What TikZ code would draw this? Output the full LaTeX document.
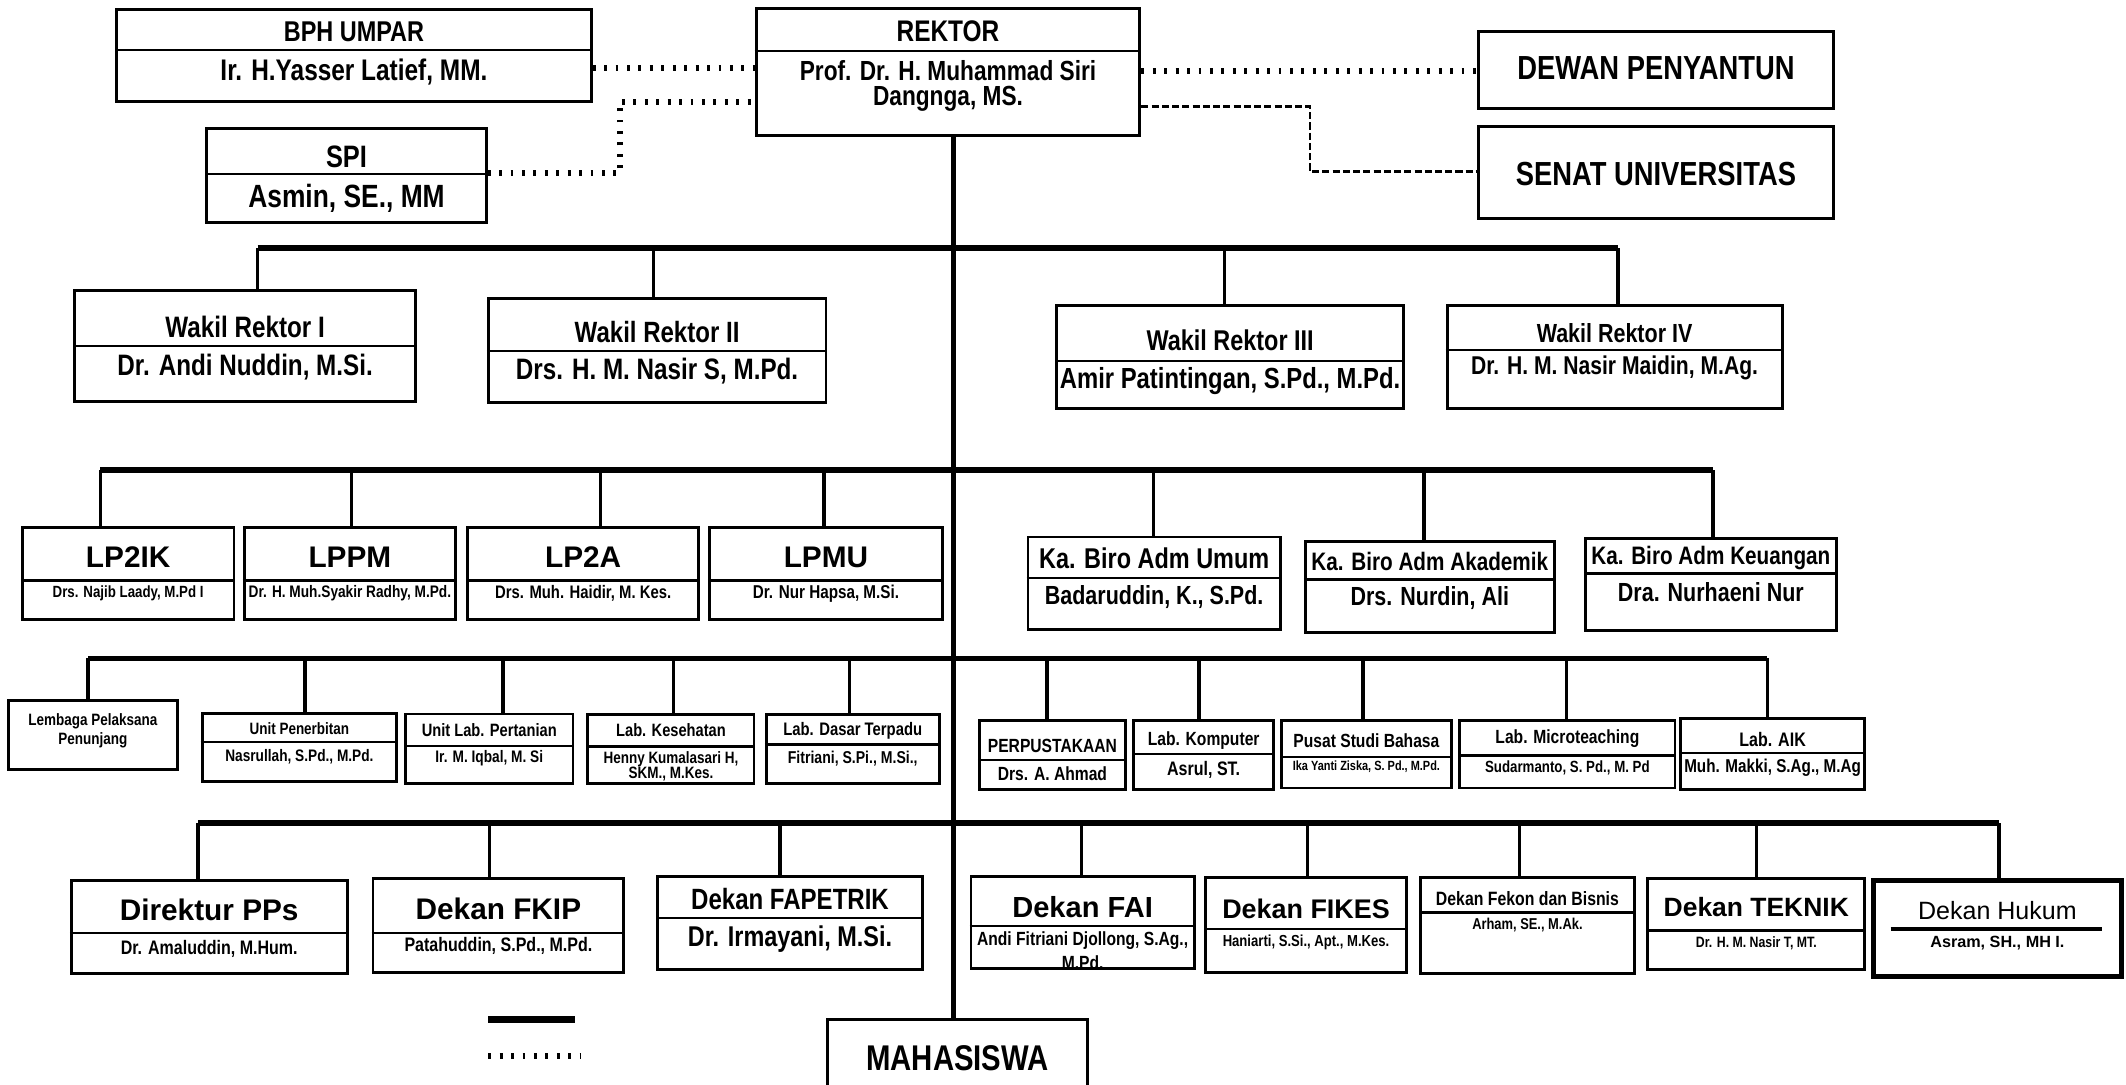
\documentclass[tikz,border=0pt]{standalone}
\usepackage{fontspec}
\newfontfamily\cnd{Liberation Sans}[FakeStretch=0.82]
\newfontfamily\wde{Liberation Sans}
\usetikzlibrary{fit}
\newcommand\fcn[1]{\cnd\bfseries\fontsize{#1}{#1}\selectfont}
\newcommand\fwd[1]{\wde\bfseries\fontsize{#1}{#1}\selectfont}
\newcommand\fwr[1]{\wde\fontsize{#1}{#1}\selectfont}
\newcommand\obx[5]{\node[obox, fit={(#2,-#3) (#4,-#5)}] (#1) {};}
\newcommand\odv[2]{\draw[divl] (#1.west |- 0,-#2) -- (#1.east |- 0,-#2);}
\newcommand\otx[4]{\node[txt, font=#3] at (#1.north |- 0,-#2) {#4};}
\newcommand\odrop[3]{\coordinate (#1c) at (#2,-#3); \draw[drop] (#1c) -- (#1c |- #1.north);}
\tikzset{
  obox/.style={draw, line width=1.2pt, inner sep=0pt},
  hbox/.style={draw, line width=2pt, inner sep=0pt},
  divl/.style={line width=1pt},
  txt/.style={inner sep=0pt, align=center},
  bus/.style={line width=2.3pt},
  drop/.style={line width=1.4pt},
  trunk/.style={line width=1.8pt},
  legsolid/.style={line width=2.8pt},
  hdot/.style={line width=2.6pt, dash pattern=on 1.2pt off 3.6pt},
  fdash/.style={line width=1.1pt, dash pattern=on 3pt off 1.3pt},
}
\begin{document}
\begin{tikzpicture}[x=0.02cm, y=0.02cm]
\useasboundingbox (0,0) rectangle (1567.6,-800);
\clip (0,0) rectangle (1567.6,-800);
\fill[white] (0,0) rectangle (1567.6,-800);

% ---------- top ----------
\obx{bph}{86}{7}{436}{75} \odv{bph}{37}
\otx{bph}{23.4}{\fcn{12}}{BPH UMPAR}
\otx{bph}{53}{\fcn{12.5}}{Ir. H.Yasser Latief, MM.}

\obx{rektor}{557.5}{6}{840.5}{99.6} \odv{rektor}{37.4}
\otx{rektor}{23.4}{\fcn{12.5}}{REKTOR}
\otx{rektor}{52}{\fcn{11.6}}{Prof. Dr. H. Muhammad Siri}
\otx{rektor}{73}{\fcn{11.6}}{Dangnga, MS.}

\obx{spi}{152.5}{94.6}{358.5}{164} \odv{spi}{128.3}
\otx{spi}{115.5}{\fcn{13}}{SPI}
\otx{spi}{146.3}{\fcn{13.5}}{Asmin, SE., MM}

\obx{dewan}{1090}{23.4}{1352}{80}
\otx{dewan}{50}{\fcn{14}}{DEWAN PENYANTUN}
\obx{senat}{1090}{93}{1352}{161}
\otx{senat}{128}{\fcn{14}}{SENAT UNIVERSITAS}

\draw[hdot] (bph.east |- 0,-50.4) -- (rektor.west |- 0,-50.4);
\draw[hdot] (spi.east |- 0,-127.8) -| (457,-75) -- (rektor.west |- 0,-75);
\draw[hdot] (rektor.east |- 0,-52.4) -- (dewan.west |- 0,-52.4);
\draw[fdash] (rektor.east |- 0,-78.7) -| (966,-126.6) -- (senat.west |- 0,-126.6);

% ---------- wakil rektor ----------
\obx{wr1}{55}{214}{306.5}{296} \odv{wr1}{255}
\otx{wr1}{241.4}{\fcn{12.4}}{Wakil Rektor I}
\otx{wr1}{270.4}{\fcn{12.4}}{Dr. Andi Nuddin, M.Si.}
\obx{wr2}{360}{220}{609}{297} \odv{wr2}{259}
\otx{wr2}{244.6}{\fcn{12.3}}{Wakil Rektor II}
\otx{wr2}{273.6}{\fcn{12.4}}{Drs. H. M. Nasir S, M.Pd.}
\obx{wr3}{779}{225}{1035}{301} \odv{wr3}{266}
\otx{wr3}{250.7}{\fcn{12}}{Wakil Rektor III}
\otx{wr3}{281}{\fcn{12.2}}{Amir Patintingan, S.Pd., M.Pd.}
\obx{wr4}{1067}{225}{1314}{301} \odv{wr4}{258}
\otx{wr4}{245.3}{\fcn{11}}{Wakil Rektor IV}
\otx{wr4}{271.2}{\fcn{10.8}}{Dr. H. M. Nasir Maidin, M.Ag.}

% ---------- lembaga / biro ----------
\obx{lp2ik}{16.5}{389}{172.5}{457} \odv{lp2ik}{428}
\otx{lp2ik}{411}{\fwd{12.5}}{LP2IK}
\otx{lp2ik}{437.6}{\fcn{6.8}}{Drs. Najib Laady, M.Pd I}
\obx{lppm}{180}{389}{336}{457} \odv{lppm}{428}
\otx{lppm}{411}{\fwd{12.5}}{LPPM}
\otx{lppm}{437.6}{\fcn{7}}{Dr. H. Muh.Syakir Radhy, M.Pd.}
\obx{lp2a}{345}{389}{515}{457} \odv{lp2a}{428}
\otx{lp2a}{411}{\fwd{12.5}}{LP2A}
\otx{lp2a}{437.6}{\fcn{7.6}}{Drs. Muh. Haidir, M. Kes.}
\obx{lpmu}{523}{389}{695}{457} \odv{lpmu}{428}
\otx{lpmu}{411}{\fwd{12.5}}{LPMU}
\otx{lpmu}{437.6}{\fcn{7.8}}{Dr. Nur Hapsa, M.Si.}

\obx{bumum}{758}{396}{944}{464} \odv{bumum}{426}
\otx{bumum}{411.8}{\fcn{12}}{Ka. Biro Adm Umum}
\otx{bumum}{440}{\fcn{11}}{Badaruddin, K., S.Pd.}
\obx{bakad}{962.5}{399.5}{1146}{466.5} \odv{bakad}{427.2}
\otx{bakad}{414.2}{\fcn{10.6}}{Ka. Biro Adm Akademik}
\otx{bakad}{441.2}{\fcn{11}}{Drs. Nurdin, Ali}
\obx{bkeu}{1169}{397}{1354}{465} \odv{bkeu}{422.8}
\otx{bkeu}{411.5}{\fcn{10.6}}{Ka. Biro Adm Keuangan}
\otx{bkeu}{436.3}{\fcn{11}}{Dra. Nurhaeni Nur}

% ---------- unit / lab ----------
\obx{lembaga}{6}{516.7}{131}{567.4}
\otx{lembaga}{532}{\fcn{6.9}}{Lembaga Pelaksana}
\otx{lembaga}{545.7}{\fcn{6.9}}{Penunjang}
\obx{penerb}{149}{526}{292.5}{576} \odv{penerb}{547}
\otx{penerb}{537.5}{\fcn{6.9}}{Unit Penerbitan}
\otx{penerb}{558}{\fcn{7}}{Nasrullah, S.Pd., M.Pd.}
\obx{pertan}{299}{526.5}{422.5}{577.5} \odv{pertan}{550}
\otx{pertan}{538.5}{\fcn{7.5}}{Unit Lab. Pertanian}
\otx{pertan}{559}{\fcn{7}}{Ir. M. Iqbal, M. Si}
\obx{keseh}{433.5}{527}{556}{578} \odv{keseh}{550.5}
\otx{keseh}{538.5}{\fcn{7.5}}{Lab. Kesehatan}
\otx{keseh}{560}{\fcn{6.9}}{Henny Kumalasari H,}
\otx{keseh}{570.5}{\fcn{6.9}}{SKM., M.Kes.}
\obx{dasar}{565}{527}{692.5}{578} \odv{dasar}{549}
\otx{dasar}{538.5}{\fcn{7.6}}{Lab. Dasar Terpadu}
\otx{dasar}{559}{\fcn{7.2}}{Fitriani, S.Pi., M.Si.,}
\obx{perpus}{722}{531.5}{830}{582} \odv{perpus}{560.5}
\otx{perpus}{550}{\fcn{8}}{PERPUSTAKAAN}
\otx{perpus}{570.3}{\fcn{8}}{Drs. A. Ahmad}
\obx{komp}{836}{531.5}{939}{582} \odv{komp}{556}
\otx{komp}{546}{\fcn{8}}{Lab. Komputer}
\otx{komp}{567.4}{\fcn{8.2}}{Asrul, ST.}
\obx{bahasa}{945}{531}{1070}{581} \odv{bahasa}{558}
\otx{bahasa}{546}{\fcn{8}}{Pusat Studi Bahasa}
\otx{bahasa}{565.5}{\fcn{5.6}}{Ika Yanti Ziska, S. Pd., M.Pd.}
\obx{micro}{1076.4}{531}{1235}{581} \odv{micro}{557}
\otx{micro}{544.5}{\fcn{8}}{Lab. Microteaching}
\otx{micro}{566}{\fcn{6.8}}{Sudarmanto, S. Pd., M. Pd}
\obx{aik}{1239}{530}{1375}{582} \odv{aik}{555}
\otx{aik}{545}{\fcn{8.2}}{Lab. AIK}
\otx{aik}{566}{\fcn{7.8}}{Muh. Makki, S.Ag., M.Ag}

% ---------- fakultas ----------
\obx{pps}{52.5}{649}{256}{718} \odv{pps}{688}
\otx{pps}{670.6}{\fwd{12.5}}{Direktur PPs}
\otx{pps}{699.4}{\fcn{8.2}}{Dr. Amaluddin, M.Hum.}
\obx{fkip}{275}{648}{460}{717} \odv{fkip}{688}
\otx{fkip}{669.9}{\fwd{12.5}}{Dekan FKIP}
\otx{fkip}{697.6}{\fcn{8.2}}{Patahuddin, S.Pd., M.Pd.}
\obx{fapet}{485}{646.5}{680}{715} \odv{fapet}{677}
\otx{fapet}{663.2}{\fcn{12.3}}{Dekan FAPETRIK}
\otx{fapet}{692.7}{\fcn{12}}{Dr. Irmayani, M.Si.}
\obx{fai}{716}{646.5}{880.5}{714} \odv{fai}{683}
\otx{fai}{668.6}{\fwd{12.2}}{Dekan FAI}
\otx{fai}{693.2}{\fcn{8}}{Andi Fitriani Djollong, S.Ag.,}
\otx{fai}{710}{\fcn{8}}{M.Pd.}
\obx{fikes}{889}{647}{1037}{717} \odv{fikes}{685}
\otx{fikes}{669.9}{\fwd{11.3}}{Dekan FIKES}
\otx{fikes}{695.2}{\fcn{6.7}}{Haniarti, S.Si., Apt., M.Kes.}
\obx{fekon}{1047.5}{647}{1205}{717.5} \odv{fekon}{672.8}
\otx{fekon}{662.5}{\fcn{8.1}}{Dekan Fekon dan Bisnis}
\otx{fekon}{682.2}{\fcn{6.6}}{Arham, SE., M.Ak.}
\obx{teknik}{1215}{648}{1375}{715} \odv{teknik}{686}
\otx{teknik}{668.6}{\fwd{11.1}}{Dekan TEKNIK}
\otx{teknik}{695.7}{\fcn{6.3}}{Dr. H. M. Nasir T, MT.}
\node[hbox, fit={(1381.5,-649) (1564,-720)}] (hukum) {};
\draw[line width=1.3pt] (1394,-685) -- (1550,-685);
\otx{hukum}{671.5}{\fwr{10.5}}{Dekan Hukum}
\otx{hukum}{695.5}{\fwd{6.8}}{Asram, SH., MH I.}

\node[obox, fit={(610,-751.5) (802,-830)}] (maha) {};
\otx{maha}{780.5}{\fcn{15}}{MAHASISWA}

% ---------- trunk ----------
\draw[trunk] (rektor.south -| 703,0) -- (maha.north -| 703,0);

% ---------- buses and drops ----------
\odrop{wr1}{190}{183} \odrop{wr2}{482}{183} \odrop{wr3}{903}{183} \odrop{wr4}{1193}{183}
\draw[bus] (wr1c) -- (wr4c);

\odrop{lp2ik}{74}{346.6} \odrop{lppm}{259}{346.6} \odrop{lp2a}{443}{346.6}
\odrop{lpmu}{607.5}{346.6} \odrop{bumum}{850.5}{346.6} \odrop{bakad}{1050}{346.6}
\odrop{bkeu}{1263}{346.6}
\draw[bus] (lp2ikc) -- (bkeuc);

\odrop{lembaga}{65}{485.5} \odrop{penerb}{225}{485.5} \odrop{pertan}{371}{485.5}
\odrop{keseh}{496.5}{485.5} \odrop{dasar}{626.5}{485.5} \odrop{perpus}{772}{485.5}
\odrop{komp}{884}{485.5} \odrop{bahasa}{1005}{485.5} \odrop{micro}{1155}{485.5}
\odrop{aik}{1303}{485.5}
\draw[bus] (lembagac) -- (aikc);

\odrop{pps}{146}{607} \odrop{fkip}{361}{607} \odrop{fapet}{575}{607}
\odrop{fai}{797.5}{607} \odrop{fikes}{964}{607} \odrop{fekon}{1120.4}{607}
\odrop{teknik}{1295}{607} \odrop{hukum}{1474}{607}
\draw[bus] (ppsc) -- (hukumc);

% ---------- legend ----------
\coordinate (ls1) at (360,-751.5); \coordinate (ls2) at (424,-751.5);
\coordinate (ld1) at (360,-778.8); \coordinate (ld2) at (427.5,-778.8);
\draw[legsolid] (ls1) -- (ls2);
\draw[hdot] (ld1) -- (ld2);
\end{tikzpicture}
\end{document}
